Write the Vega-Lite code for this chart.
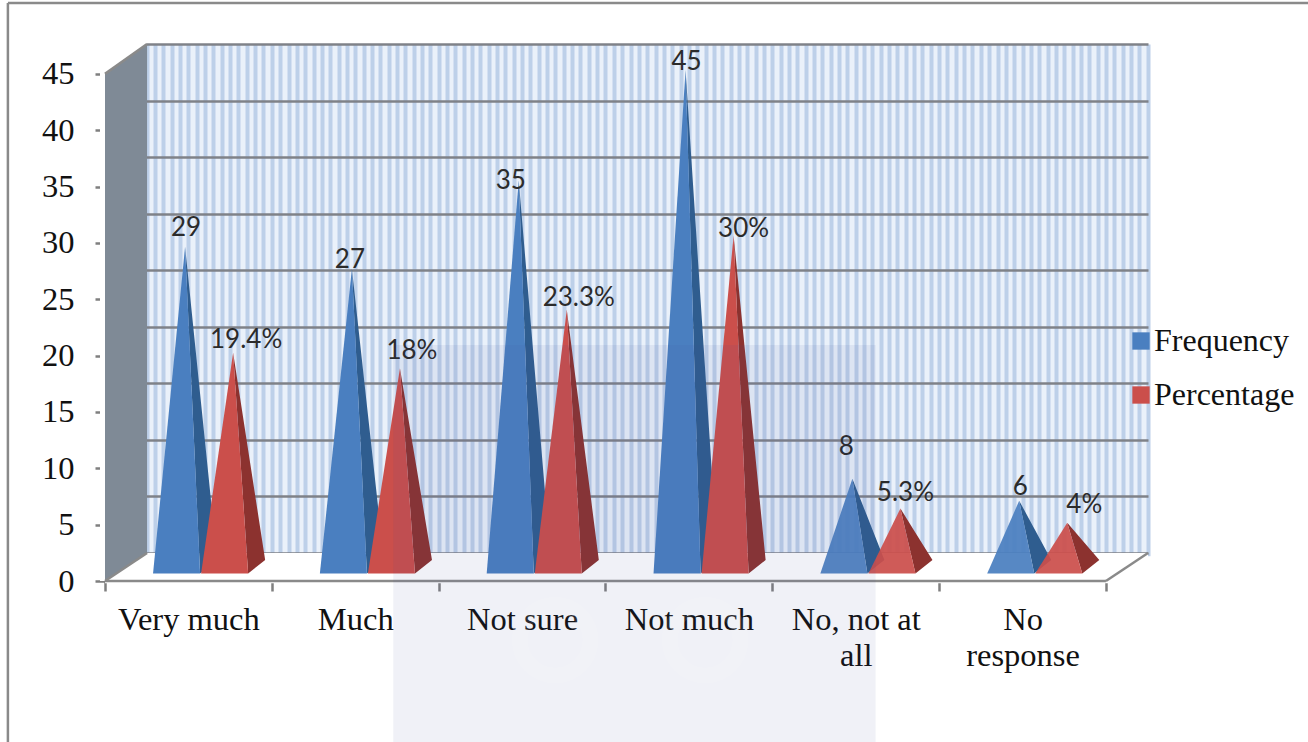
{"$schema":"https://vega.github.io/schema/vega-lite/v6.json","width":1043,"height":537,"autosize":{"type":"none"},"padding":{"left":105,"top":44,"right":160,"bottom":161},"background":"white","view":{"fill":"#eaf1fa","stroke":null},"config":{"font":"Liberation Serif"},
"datasets":{"bars":[
{"category":"Very much","index":0,"series":"Frequency","value":29},{"category":"Very much","index":0,"series":"Percentage","value":19.4},
{"category":"Much","index":1,"series":"Frequency","value":27},{"category":"Much","index":1,"series":"Percentage","value":18},
{"category":"Not sure","index":2,"series":"Frequency","value":35},{"category":"Not sure","index":2,"series":"Percentage","value":23.3},
{"category":"Not much","index":3,"series":"Frequency","value":45},{"category":"Not much","index":3,"series":"Percentage","value":30},
{"category":"No, not at all","index":4,"series":"Frequency","value":8},{"category":"No, not at all","index":4,"series":"Percentage","value":5.3},
{"category":"No response","index":5,"series":"Frequency","value":6},{"category":"No response","index":5,"series":"Percentage","value":4}],"one":[{"n":1}]},
"data":{"name":"bars"},
"resolve":{"axis":{"x":"independent","y":"independent"}},
"layer":[
{"data":{"name":"one"},"mark":{"type":"rule","opacity":0},"encoding":{
"x":{"datum":0,"type":"quantitative","scale":{"domain":[0,6.252],"nice":false,"zero":false},"axis":{"orient":"top","tickCount":125,"grid":true,"gridColor":"#bdd0e9","gridWidth":4,"labels":false,"ticks":false,"domain":false,"title":null}},
"y":{"datum":0,"type":"quantitative","scale":{"domain":[0,47.65],"nice":false,"zero":false},"axis":{"orient":"right","values":[2.484,7.5,12.52,17.54,22.56,27.58,32.6,37.62,42.63,47.65],"grid":true,"gridColor":"#7f8288","gridWidth":2.5,"labels":false,"ticks":false,"domain":false,"title":null}}}},
{"data":{"name":"one"},"mark":{"type":"rect","fill":"#ffffff","clip":false},"encoding":{"x":{"datum":6.252,"type":"quantitative","scale":{"domain":[0,6.252],"nice":false,"zero":false},"axis":null},"x2":{"datum":6.285},"y":{"datum":-0.2,"type":"quantitative","scale":{"domain":[0,47.65],"nice":false,"zero":false},"axis":null},"y2":{"datum":2.2}}},
{"data":{"name":"one"},"mark":{"type":"rect","fill":"#ffffff","clip":false},"encoding":{"x":{"datum":-0.03,"type":"quantitative","scale":{"domain":[0,6.252],"nice":false,"zero":false},"axis":null},"x2":{"datum":0},"y":{"datum":0,"type":"quantitative","scale":{"domain":[0,47.65],"nice":false,"zero":false},"axis":null},"y2":{"datum":47.9}}},
{"data":{"values":[{"depth":0,"front":-0.2,"back":0},{"depth":0.252,"front":-0.2,"back":2.484},{"depth":6.252,"front":-0.2,"back":2.484}]},"mark":{"type":"area","fill":"#ffffff"},"encoding":{
"x":{"field":"depth","type":"quantitative","scale":{"domain":[0,6.252],"nice":false,"zero":false},"axis":null},
"y":{"field":"back","type":"quantitative","scale":{"domain":[0,47.65],"nice":false,"zero":false},"axis":null},
"y2":{"field":"front"}}},
{"data":{"values":[{"depth":0,"low":45,"high":47.9},{"depth":0.25,"low":47.58,"high":47.9}]},"mark":{"type":"area","fill":"#ffffff"},"encoding":{
"x":{"field":"depth","type":"quantitative","scale":{"domain":[0,6.252],"nice":false,"zero":false},"axis":null},
"y":{"field":"high","type":"quantitative","scale":{"domain":[0,47.65],"nice":false,"zero":false},"axis":null},
"y2":{"field":"low"}}},
{"data":{"values":[{"depth":0,"low":0,"high":45},{"depth":0.252,"low":2.484,"high":47.65}]},"mark":{"type":"area","fill":"#7f8a96"},"encoding":{
"x":{"field":"depth","type":"quantitative","scale":{"domain":[0,6.252],"nice":false,"zero":false},"axis":null},
"y":{"field":"high","type":"quantitative","scale":{"domain":[0,47.65],"nice":false,"zero":false},"axis":null},
"y2":{"field":"low"}}},
{"data":{"name":"one"},"mark":{"type":"rule","color":"#8a8a8a","strokeWidth":2.5},"encoding":{
"x":{"datum":0,"type":"quantitative","scale":{"domain":[0,6.252],"nice":false,"zero":false},"axis":{"orient":"bottom","values":[0,1,2,3,4,5,6],"labels":false,"domain":false,"tickColor":"#7f7f7f","tickWidth":2.5,"tickSize":10,"title":null}},
"x2":{"datum":6},
"y":{"datum":0,"type":"quantitative","scale":{"domain":[0,47.65],"nice":false,"zero":false},"axis":{"orient":"left","values":[0,5,10,15,20,25,30,35,40,45],"domain":false,"tickColor":"#7f7f7f","tickWidth":2.5,"tickSize":10,"labelFont":"Liberation Serif","labelFontSize":32.5,"labelColor":"#111111","labelPadding":21,"title":null}}}},
{"data":{"name":"one"},"transform":[{"filter":"false"}],"mark":{"type":"rule","color":"#8a8a8a","strokeWidth":2.5},"encoding":{
"x":{"datum":0,"type":"quantitative","scale":{"domain":[0,6.252],"nice":false,"zero":false},"axis":{"orient":"bottom","values":[0.5,1.5,2.5,3.5,4.5,5.5],"labelExpr":"['Very much','Much','Not sure','Not much',['No, not at','all'],['No','response']][floor(datum.value)]","labelFont":"Liberation Serif","labelFontSize":32.5,"labelColor":"#111111","labelPadding":22,"labelLineHeight":36,"labelAngle":0,"ticks":false,"domain":false,"title":null,"labelOverlap":false}},
"x2":{"datum":6.252},
"y":{"datum":0,"type":"quantitative","scale":{"domain":[0,47.65],"nice":false,"zero":false},"axis":null},
"y2":{"datum":0}}},
{"data":{"name":"one"},"mark":{"type":"rule","color":"#8a8a8a","strokeWidth":2.5},"encoding":{"x":{"datum":6,"type":"quantitative","scale":{"domain":[0,6.252],"nice":false,"zero":false},"axis":null},"x2":{"datum":6.252},"y":{"datum":0,"type":"quantitative","scale":{"domain":[0,47.65],"nice":false,"zero":false},"axis":null},"y2":{"datum":2.484}}},
{"data":{"name":"one"},"mark":{"type":"rule","color":"#8a8a8a","strokeWidth":2.5},"encoding":{"x":{"datum":0,"type":"quantitative","scale":{"domain":[0,6.252],"nice":false,"zero":false},"axis":null},"x2":{"datum":0.252},"y":{"datum":0,"type":"quantitative","scale":{"domain":[0,47.65],"nice":false,"zero":false},"axis":null},"y2":{"datum":2.484}}},
{"data":{"name":"one"},"mark":{"type":"rule","color":"#8a8a8a","strokeWidth":2.5},"encoding":{"x":{"datum":0,"type":"quantitative","scale":{"domain":[0,6.252],"nice":false,"zero":false},"axis":null},"x2":{"datum":0.252},"y":{"datum":45,"type":"quantitative","scale":{"domain":[0,47.65],"nice":false,"zero":false},"axis":null},"y2":{"datum":47.65}}},
{"data":{"name":"one"},"mark":{"type":"rule","color":"#8a8a8a","strokeWidth":2.5,"clip":false},"encoding":{"x":{"datum":-0.582,"type":"quantitative","scale":{"domain":[0,6.252],"nice":false,"zero":false},"axis":null},"y":{"datum":51.29,"type":"quantitative","scale":{"domain":[0,47.65],"nice":false,"zero":false},"axis":null},"y2":{"datum":-14.3}}},
{"data":{"name":"one"},"mark":{"type":"rule","color":"#8a8a8a","strokeWidth":2.5,"clip":false},"encoding":{"x":{"datum":-0.582,"type":"quantitative","scale":{"domain":[0,6.252],"nice":false,"zero":false},"axis":null},"x2":{"datum":7.3},"y":{"datum":51.29,"type":"quantitative","scale":{"domain":[0,47.65],"nice":false,"zero":false},"axis":null}}},
{"transform":[
{"calculate":"datum.index+(datum.series==='Frequency'?0.288:0.576)","as":"left"},
{"calculate":"datum.left+0.192","as":"ax"},
{"calculate":"1.24+0.98*datum.value","as":"ay"},
{"calculate":"0","as":"v0"},{"calculate":"1","as":"v1"},{"calculate":"2","as":"v2"},
{"fold":["v0","v1","v2"],"as":["vkey","vertex"]},
{"calculate":"datum.vertex===0?datum.ax:datum.vertex===1?datum.left+0.282:datum.left+0.384","as":"px"},
{"calculate":"datum.vertex===0?datum.ay:datum.vertex===1?datum.ay+(1.86-datum.ay)*0.469:1.86","as":"upper"},
{"calculate":"datum.vertex===0?datum.ay:datum.vertex===1?0.665:1.86","as":"lower"}],
"mark":{"type":"area"},"encoding":{
"detail":[{"field":"category"},{"field":"series"}],
"x":{"field":"px","type":"quantitative","scale":{"domain":[0,6.252],"nice":false,"zero":false},"axis":null},
"y":{"field":"upper","type":"quantitative","scale":{"domain":[0,47.65],"nice":false,"zero":false},"axis":null},
"y2":{"field":"lower"},
"fill":{"condition":{"test":"datum.series==='Frequency'","value":"#2f5d8f"},"value":"#8c322f"}}},
{"transform":[
{"calculate":"datum.index+(datum.series==='Frequency'?0.288:0.576)","as":"left"},
{"calculate":"datum.left+0.192","as":"ax"},
{"calculate":"1.24+0.98*datum.value","as":"ay"},
{"calculate":"0","as":"v0"},{"calculate":"1","as":"v1"},{"calculate":"2","as":"v2"},
{"fold":["v0","v1","v2"],"as":["vkey","vertex"]},
{"calculate":"datum.vertex===0?datum.left:datum.vertex===1?datum.ax:datum.left+0.282","as":"px"},
{"calculate":"datum.vertex===1?datum.ay:0.665","as":"upper"},
{"calculate":"0.665","as":"lower"}],
"mark":{"type":"area"},"encoding":{
"detail":{"field":"category"},
"x":{"field":"px","type":"quantitative","scale":{"domain":[0,6.252],"nice":false,"zero":false},"axis":null},
"y":{"field":"upper","type":"quantitative","scale":{"domain":[0,47.65],"nice":false,"zero":false},"axis":null},
"y2":{"field":"lower"},
"opacity":{"condition":{"test":"datum.index>=4","value":0.93},"value":1},
"fill":{"field":"series","type":"nominal","scale":{"domain":["Frequency","Percentage"],"range":["#4a7fc0","#cb4f4b"]},"legend":{"title":null,"orient":"none","legendX":1020,"legendY":281,"symbolType":"square","symbolSize":300,"symbolStrokeWidth":0,"symbolOpacity":1,"labelFont":"Liberation Serif","labelFontSize":32,"labelColor":"#111111","labelOffset":-3,"rowPadding":22,"labelLimit":220}}}},
{"transform":[
{"calculate":"datum.index+(datum.series==='Frequency'?0.288:0.576)","as":"left"},
{"calculate":"datum.left+0.192","as":"ax"},
{"calculate":"1.24+0.98*datum.value","as":"ay"},
{"calculate":"datum.series==='Frequency'?[1,-2,-8,1,-6,1][datum.index]:[13,12,12,10,5,17][datum.index]","as":"ox"},
{"calculate":"datum.series==='Frequency'?[19,9,-1,8,32,14][datum.index]:[13,17,12,7,15,18][datum.index]","as":"oy"},
{"calculate":"datum.ax+datum.ox/166.8","as":"lx"},
{"calculate":"datum.ay+datum.oy/11.27","as":"ly"},
{"calculate":"datum.series==='Percentage'?datum.value+'%':''+datum.value","as":"label"}],
"mark":{"type":"text","font":"Lato","fontSize":26,"color":"#2b2b2b","baseline":"middle","align":"center","clip":false},"encoding":{
"x":{"field":"lx","type":"quantitative","scale":{"domain":[0,6.252],"nice":false,"zero":false},"axis":null},
"y":{"field":"ly","type":"quantitative","scale":{"domain":[0,47.65],"nice":false,"zero":false},"axis":null},
"text":{"field":"label"}}},
{"data":{"name":"one"},"mark":{"type":"rect","fill":"#3d4f9e","opacity":0.08,"clip":false},"encoding":{
"x":{"datum":1.728,"type":"quantitative","scale":{"domain":[0,6.252],"nice":false,"zero":false},"axis":null},"x2":{"datum":4.619},
"y":{"datum":20.94,"type":"quantitative","scale":{"domain":[0,47.65],"nice":false,"zero":false},"axis":null},"y2":{"datum":-14.3}}},
{"data":{"values":[{"a":2.698,"b":-5.24},{"a":3.597,"b":-5.24}]},"mark":{"type":"point","shape":"circle","filled":false,"stroke":"#ffffff","strokeWidth":16,"opacity":0.09,"size":5000,"clip":false},"encoding":{
"x":{"field":"a","type":"quantitative","scale":{"domain":[0,6.252],"nice":false,"zero":false},"axis":null},
"y":{"field":"b","type":"quantitative","scale":{"domain":[0,47.65],"nice":false,"zero":false},"axis":null}}}
]}
